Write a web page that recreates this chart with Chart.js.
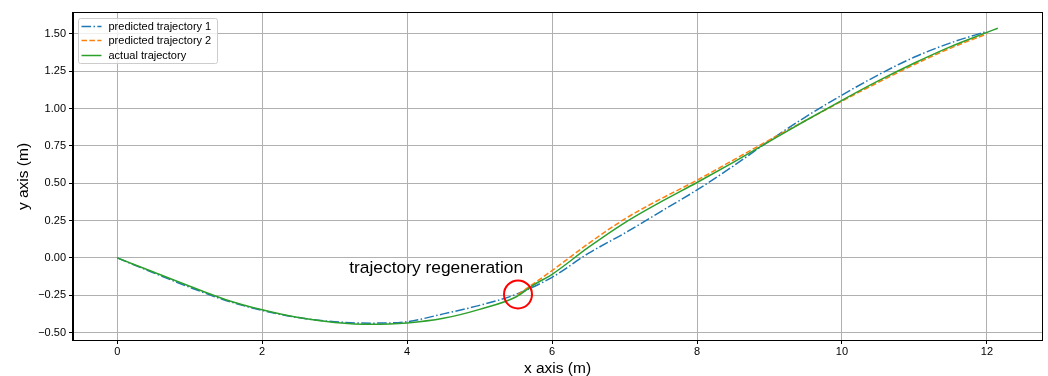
<!DOCTYPE html>
<html>
<head>
<meta charset="utf-8">
<script src="https://cdn.jsdelivr.net/npm/chart.js@4.4.1/dist/chart.umd.min.js"></script>
<style>
  html, body { margin: 0; padding: 0; background: #fff; }
  canvas { display: block; }
</style>
</head>
<body>
<canvas id="chart" width="1048" height="376"></canvas>
<script>
const xTicks = [0, 2, 4, 6, 8, 10, 12];
const yTicks = [-0.5, -0.25, 0, 0.25, 0.5, 0.75, 1.0, 1.25, 1.5];

// actual trajectory
const actualX = [0, 0.5, 1, 1.5, 2, 2.5, 3, 3.5, 4, 4.5, 5, 5.5, 5.75, 6, 6.5, 7, 7.5, 8, 8.5, 9, 9.5, 10, 10.5, 11, 11.5, 12, 12.15];
const actualY = [0, -0.095, -0.19, -0.28, -0.348, -0.4, -0.432, -0.445, -0.436, -0.405, -0.345, -0.262, -0.18, -0.11, 0.07, 0.235, 0.375, 0.505, 0.64, 0.78, 0.92, 1.055, 1.185, 1.305, 1.415, 1.51, 1.538];

// predicted trajectory 1
const pred1X = [0, 0.5, 1, 1.5, 2, 2.5, 3, 3.5, 4, 4.5, 5, 5.5, 6, 6.5, 7, 7.5, 8, 8.5, 9, 9.5, 10, 10.5, 11, 11.5, 12];
const pred1Y = [0, -0.1, -0.197, -0.285, -0.352, -0.4, -0.428, -0.437, -0.427, -0.375, -0.318, -0.245, -0.13, 0.03, 0.165, 0.31, 0.455, 0.615, 0.785, 0.945, 1.09, 1.225, 1.345, 1.44, 1.517];

// predicted trajectory 2 (after regeneration)
const pred2X = [5.53, 6, 6.5, 7, 7.5, 8, 8.5, 9, 9.5, 10, 10.5, 11, 11.5, 12];
const pred2Y = [-0.245, -0.085, 0.095, 0.26, 0.395, 0.52, 0.655, 0.79, 0.92, 1.05, 1.175, 1.295, 1.405, 1.5];

const regenX = [5.53];
const regenY = [-0.245];

const seriesLabels = ['predicted trajectory 1', 'predicted trajectory 2', 'actual trajectory'];
const seriesColors = ['#1f77b4', '#ff7f0e', '#2ca02c'];
const seriesDash = [[9.6, 2.4, 1.5, 2.4], [5.5, 2.4], []];

const noteText = 'trajectory regeneration';
const noteAt = [3.2, -0.1];

const FONT = '"Liberation Sans", Arial, sans-serif';

function toPoints(xs, ys) {
  return xs.map((x, i) => ({ x: x, y: ys[i] }));
}

const framePlugin = {
  id: 'frame',
  afterDraw(chart) {
    const ctx = chart.ctx;
    const a = chart.chartArea;
    ctx.save();
    ctx.strokeStyle = '#000';
    ctx.lineWidth = 1;
    ctx.strokeRect(Math.round(a.left) - 0.5, Math.round(a.top) - 0.5, Math.round(a.right - a.left) + 1, Math.round(a.bottom - a.top) + 1);
    ctx.restore();
  }
};

const notePlugin = {
  id: 'note',
  afterDatasetsDraw(chart) {
    const ctx = chart.ctx;
    const px = chart.scales.x.getPixelForValue(noteAt[0]);
    const py = chart.scales.y.getPixelForValue(noteAt[1]);
    ctx.save();
    ctx.font = '17.4px ' + FONT;
    ctx.fillStyle = '#000';
    ctx.textAlign = 'left';
    ctx.textBaseline = 'alphabetic';
    ctx.fillText(noteText, px, py);
    ctx.restore();
  }
};

const legendPlugin = {
  id: 'insideLegend',
  afterDraw(chart) {
    const ctx = chart.ctx;
    const a = chart.chartArea;
    const x0 = a.left + 5.5, y0 = a.top + 5.5;
    ctx.save();
    ctx.beginPath();
    ctx.roundRect(x0, y0, 139, 45, 2);
    ctx.fillStyle = 'rgba(255,255,255,0.8)';
    ctx.fill();
    ctx.strokeStyle = '#cccccc';
    ctx.lineWidth = 1;
    ctx.stroke();
    ctx.font = '11px ' + FONT;
    ctx.textBaseline = 'middle';
    seriesLabels.forEach((label, i) => {
      const cy = Math.round(y0 + 7 + i * 14.7) + 0.5;
      ctx.beginPath();
      ctx.setLineDash(seriesDash[i]);
      ctx.strokeStyle = seriesColors[i];
      ctx.lineWidth = 1.5;
      ctx.moveTo(x0 + 3, cy);
      ctx.lineTo(x0 + 23, cy);
      ctx.stroke();
      ctx.setLineDash([]);
      ctx.fillStyle = '#000';
      ctx.fillText(label, x0 + 30, cy);
    });
    ctx.restore();
  }
};

const lineSet = (i, xs, ys, order) => ({
  label: seriesLabels[i],
  data: toPoints(xs, ys),
  showLine: true,
  borderColor: seriesColors[i],
  borderWidth: 1.5,
  borderDash: seriesDash[i],
  pointRadius: 0,
  cubicInterpolationMode: 'monotone',
  fill: false,
  order: order
});

new Chart(document.getElementById('chart'), {
  type: 'scatter',
  data: {
    datasets: [
      lineSet(0, pred1X, pred1Y, 3),
      lineSet(1, pred2X, pred2Y, 2),
      lineSet(2, actualX, actualY, 1),
      {
        label: 'regeneration',
        data: toPoints(regenX, regenY),
        showLine: false,
        pointRadius: 14,
        pointBorderWidth: 2,
        pointBorderColor: '#ff0000',
        pointBackgroundColor: 'rgba(0,0,0,0)',
        order: 0
      }
    ]
  },
  options: {
    responsive: false,
    animation: false,
    devicePixelRatio: 1,
    layout: { autoPadding: false, padding: { top: 13, right: 6, left: 0, bottom: 0 } },
    plugins: {
      legend: { display: false },
      tooltip: { enabled: false }
    },
    scales: {
      x: {
        type: 'linear',
        min: -0.61,
        max: 12.76,
        afterFit: (scale) => {
          scale.height = 36;
          scale.paddingLeft = 0;
          scale.paddingRight = 0;
        },
        afterBuildTicks: (scale) => { scale.ticks = xTicks.map(v => ({ value: v })); },
        grid: { color: '#b0b0b0', lineWidth: 1, tickColor: '#000', tickLength: 4 },
        border: { display: true, color: '#000', width: 1 },
        ticks: {
          autoSkip: false,
          maxRotation: 0,
          padding: 1,
          color: '#000',
          font: { family: FONT, size: 11 },
          callback: (v) => String(v)
        },
        title: {
          display: true,
          text: 'x axis (m)',
          color: '#000',
          font: { family: FONT, size: 15.5, lineHeight: 1 },
          padding: { top: 0, bottom: 0 }
        }
      },
      y: {
        type: 'linear',
        min: -0.55,
        max: 1.64,
        afterFit: (scale) => {
          scale.width = 73;
          scale.paddingTop = 0;
          scale.paddingBottom = 0;
        },
        afterBuildTicks: (scale) => { scale.ticks = yTicks.map(v => ({ value: v })); },
        grid: { color: '#b0b0b0', lineWidth: 1, tickColor: '#000', tickLength: 4 },
        border: { display: true, color: '#000', width: 1 },
        ticks: {
          autoSkip: false,
          padding: 3,
          color: '#000',
          font: { family: FONT, size: 11 },
          callback: (v) => v.toFixed(2).replace('-', '\u2212')
        },
        title: {
          display: true,
          text: 'y axis (m)',
          color: '#000',
          font: { family: FONT, size: 15.5, lineHeight: 1 },
          padding: { top: 16, bottom: 0 }
        }
      }
    }
  },
  plugins: [notePlugin, legendPlugin, framePlugin]
});
</script>
</body>
</html>
